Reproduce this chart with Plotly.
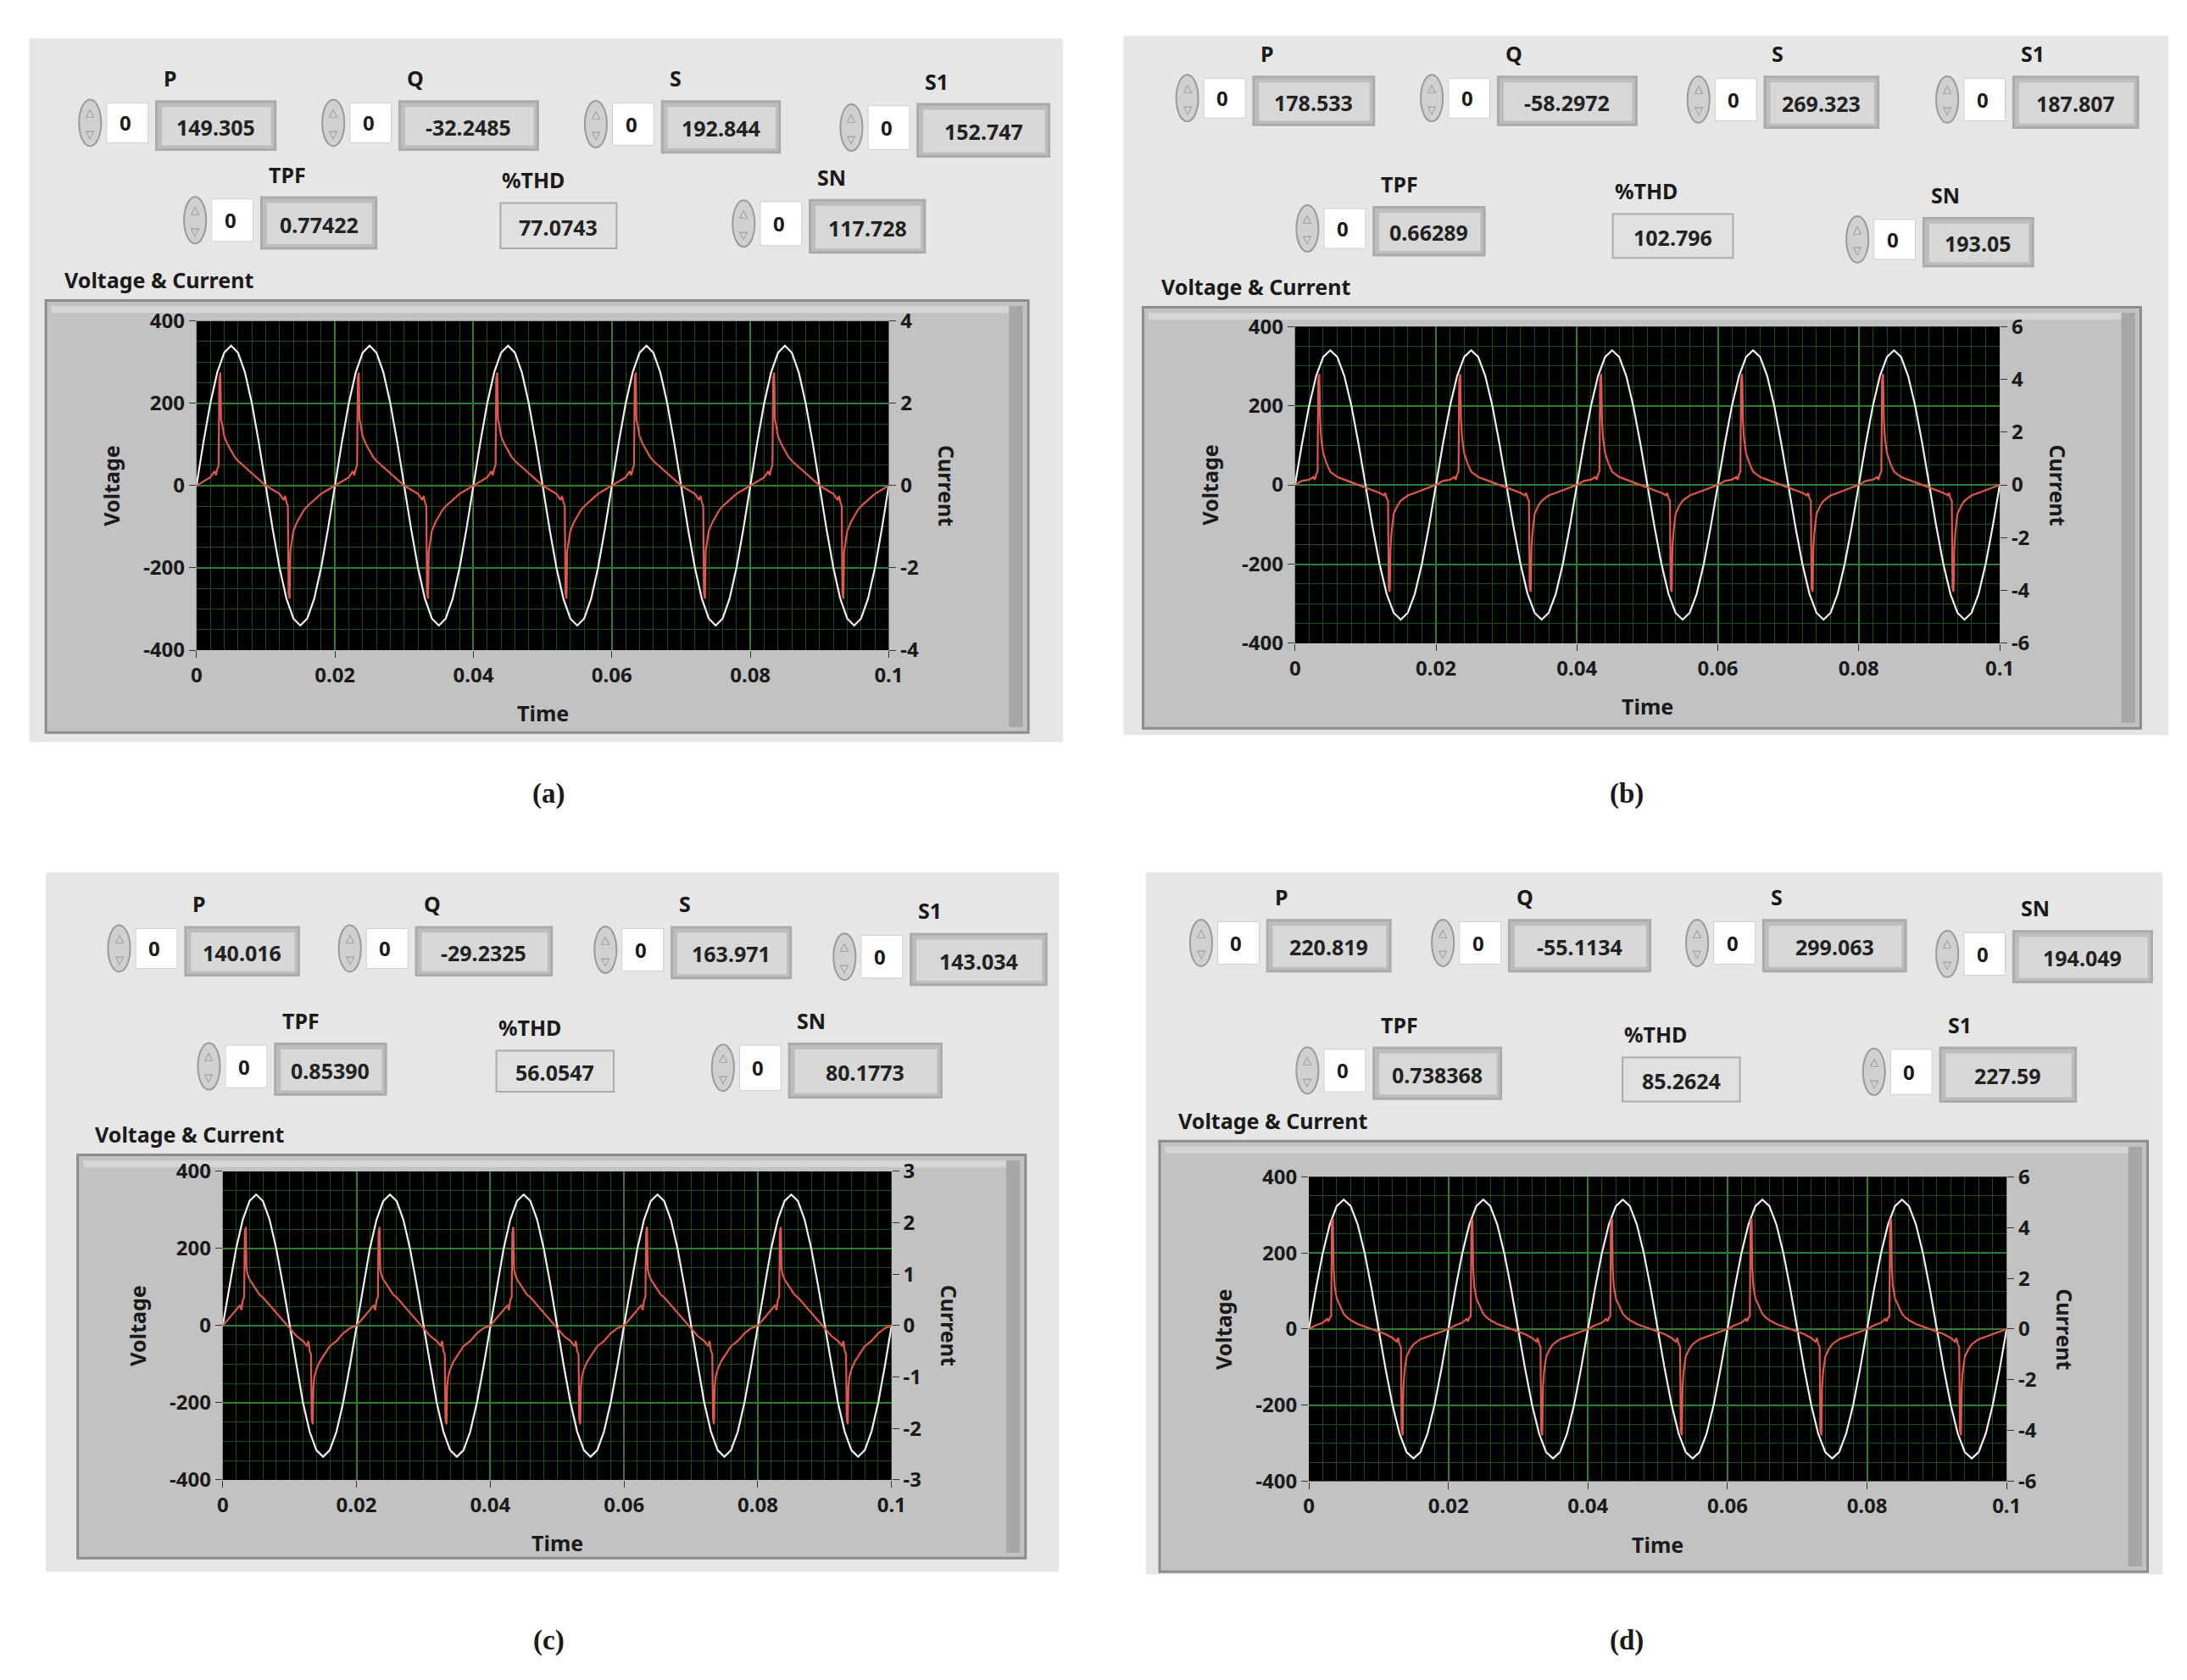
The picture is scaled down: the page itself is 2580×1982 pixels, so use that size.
import plotly.graph_objects as go

W, H = 2580, 1982
S = W / 1568.0          # reference measured at 1568 px wide
HD = H / S

# ---- data ----------------------------------------------------------------
panel_ids = ['(a)', '(b)', '(c)', '(d)']
cur_ranges = [4, 6, 3, 6]
cur_steps = [2, 2, 1, 2]

# one mains cycle of voltage, sampled every 1 ms
volt_cycle = [0, 105, 200, 275, 323, 340, 323, 275, 200, 105,
              0, -105, -200, -275, -323, -340, -323, -275, -200, -105]

# one cycle of current (ms, A)
cur_t = [0, 1, 2, 2.6, 2.8, 3.0, 3.2, 3.3, 3.45, 3.55, 3.7, 4.0, 4.5, 5.0, 5.5, 6.0, 7.0, 8.0, 9.0,
         10.0, 11.0, 12.0, 12.6, 12.8, 13.0, 13.2, 13.3, 13.45, 13.55, 13.7, 14.0, 14.5, 15.0, 15.5,
         16.0, 17.0, 18.0, 19.0]
cur_a = [0, 0.1, 0.2, 0.35, 0.25, 0.4, 0.5, 2.6, 2.75, 1.6, 1.5, 1.2, 1.0, 0.85, 0.7, 0.6, 0.45, 0.3, 0.15,
         0.0, -0.1, -0.2, -0.35, -0.25, -0.4, -0.5, -2.6, -2.75, -1.6, -1.4, -1.1, -0.9, -0.75, -0.6,
         -0.5, -0.35, -0.2, -0.1]
cur_b = [0, 0.15, 0.2, 0.3, 0.2, 0.4, 0.5, 4.0, 4.2, 2.5, 1.8, 1.2, 0.8, 0.5, 0.4, 0.3, 0.2, 0.1, 0.0,
         -0.1, -0.2, -0.3, -0.4, -0.3, -0.5, -0.6, -3.9, -4.05, -2.4, -1.8, -1.1, -0.8, -0.6, -0.5,
         -0.4, -0.3, -0.2, -0.1]
cur_c = [0, 0.15, 0.3, 0.4, 0.3, 0.5, 0.55, 1.8, 1.92, 1.1, 1.0, 0.9, 0.8, 0.7, 0.6, 0.55, 0.4, 0.25, 0.1,
         -0.05, -0.2, -0.3, -0.4, -0.3, -0.5, -0.55, -1.8, -1.92, -1.2, -1.0, -0.85, -0.7, -0.6, -0.5,
         -0.4, -0.3, -0.15, -0.05]
cur_d = [0, 0.15, 0.25, 0.4, 0.3, 0.45, 0.5, 4.2, 4.36, 2.4, 1.7, 1.2, 0.9, 0.6, 0.45, 0.35, 0.2, 0.1, 0.0,
         -0.1, -0.2, -0.35, -0.5, -0.35, -0.6, -0.7, -4.0, -4.19, -2.3, -1.7, -1.1, -0.8, -0.6, -0.5,
         -0.4, -0.3, -0.2, -0.1]
currents = [cur_a, cur_b, cur_c, cur_d]
n_cycles = 5

time_ticks = [0, 0.02, 0.04, 0.06, 0.08, 0.1]
time_labels = ['0', '0.02', '0.04', '0.06', '0.08', '0.1']
volt_ticks = [-400, -200, 0, 200, 400]

ind_a = [('P', '149.305'), ('Q', '-32.2485'), ('S', '192.844'), ('S1', '152.747'),
         ('TPF', '0.77422'), ('%THD', '77.0743'), ('SN', '117.728')]
ind_b = [('P', '178.533'), ('Q', '-58.2972'), ('S', '269.323'), ('S1', '187.807'),
         ('TPF', '0.66289'), ('%THD', '102.796'), ('SN', '193.05')]
ind_c = [('P', '140.016'), ('Q', '-29.2325'), ('S', '163.971'), ('S1', '143.034'),
         ('TPF', '0.85390'), ('%THD', '56.0547'), ('SN', '80.1773')]
ind_d = [('P', '220.819'), ('Q', '-55.1134'), ('S', '299.063'), ('SN', '194.049'),
         ('TPF', '0.738368'), ('%THD', '85.2624'), ('S1', '227.59')]
indicators = [ind_a, ind_b, ind_c, ind_d]

# ---- layout geometry (reference px at 1568 wide) ---------------------------
panels = [(12, 12, 760, 525), (804, 10, 1560, 520), (24, 620, 757, 1130), (820, 620, 1556, 1132)]
frames = [(24, 203, 735, 518), (818, 208, 1540, 515), (47, 826, 733, 1120), (830, 816, 1545, 1130)]
plots = [(133, 218, 634, 458), (928, 222, 1438, 453), (152, 838, 636, 1063), (938, 842, 1443, 1064)]
titles = [(36, 188), (830, 193), (58, 811), (842, 801)]
boxes = [
    [(104, 58, 190, 93), (280, 58, 380, 93), (470, 58, 555, 95), (655, 60, 750, 98),
     (180, 128, 263, 165), (353, 132, 437, 165), (577, 130, 660, 168)],
    [(898, 40, 985, 75), (1075, 40, 1175, 75), (1268, 40, 1350, 77), (1448, 40, 1538, 77),
     (985, 135, 1065, 170), (1158, 140, 1245, 172), (1383, 143, 1462, 178)],
    [(125, 660, 207, 695), (292, 660, 390, 695), (477, 660, 563, 697), (650, 665, 748, 702),
     (190, 745, 270, 782), (350, 750, 435, 780), (562, 745, 672, 784)],
    [(908, 655, 997, 692), (1083, 655, 1185, 692), (1267, 655, 1370, 692), (1448, 663, 1548, 700),
     (985, 748, 1077, 785), (1165, 755, 1250, 787), (1395, 748, 1493, 787)],
]
labels_pos = [(388, 563), (1168, 563), (388, 1180), (1168, 1180)]


def px(x):
    return x / 1568.0


def py(y):
    return 1 - y / HD


FONT = 'Noto Sans'
fig = go.Figure()
shapes, annos = [], []


def rect(x0, y0, x1, y1, fill, line='rgba(0,0,0,0)', lw=0, layer='below'):
    shapes.append(dict(type='rect', xref='paper', yref='paper', x0=px(x0), x1=px(x1),
                       y0=py(y1), y1=py(y0), fillcolor=fill, line=dict(color=line, width=lw),
                       layer=layer))


def text(x, y, s, size, xanchor='center', bold=True, angle=0, color='#1a1a1a', family=FONT):
    annos.append(dict(xref='paper', yref='paper', x=px(x), y=py(y), text=('<b>%s</b>' % s) if bold else s,
                      showarrow=False, xanchor=xanchor, yanchor='middle', textangle=angle,
                      font=dict(family=family, size=size, color=color)))


def num(v):
    return ('%g' % v).replace('\u2212', '-')


for k in range(4):
    rect(*panels[k], fill='#e6e6e6')
    rect(*frames[k], fill='#c2c2c2', line='#8c8c8c', lw=3)
    rect(frames[k][0] + 4, frames[k][1] + 4, frames[k][2] - 4, frames[k][1] + 9, fill='#d6d6d6')
    rect(frames[k][2] - 14, frames[k][1] + 4, frames[k][2] - 4, frames[k][3] - 4, fill='#a6a6a6')
    x0, y0, x1, y1 = plots[k]
    rect(x0, y0, x1, y1, fill='black')
    text(titles[k][0], titles[k][1], 'Voltage & Current', 25, xanchor='left')
    text(*labels_pos[k], panel_ids[k], 33, family='Liberation Serif')

    for (lab, val), (bx0, by0, bx1, by1) in zip(indicators[k], boxes[k]):
        thd = lab == '%THD'
        rect(bx0, by0, bx1, by1, fill='#e0e0e0' if thd else '#bdbdbd', line='#ababab', lw=3 if not thd else 2)
        rect(bx0 + 4, by0 + 4, bx1 - 3, by1 - 3, fill='#d8d8d8' if not thd else '#e0e0e0')
        text((bx0 + bx1) / 2, (by0 + by1) / 2 + 1, val, 25, bold=True, color='#222')
        text(bx0 + (0 if thd else 4), by0 - 17, lab, 25, xanchor='left')
        if not thd:
            rect(bx0 - 36, by0 + 1, bx0 - 6, by1 - 5, fill='white', line='#cfcfcf', lw=1)
            text(bx0 - 28, (by0 + by1) / 2 - 2, '0', 24, xanchor='left', bold=True)
            cx, cy = bx0 - 48, (by0 + by1) / 2 - 2
            shapes.append(dict(type='circle', xref='paper', yref='paper', x0=px(cx - 8), x1=px(cx + 8),
                               y0=py(cy + 17), y1=py(cy - 17), fillcolor='#d0d0d0',
                               line=dict(color='#9a9a9a', width=2), layer='below'))
            text(cx, cy - 8, '\u25b3', 13, bold=False, color='#888')
            text(cx, cy + 8, '\u25bd', 13, bold=False, color='#888')

    # axes
    i = k + 1
    xa, ya, ya2 = 'x%d' % i, 'y%d' % (2 * k + 1), 'y%d' % (2 * k + 2)
    fig.add_trace(go.Scatter(x=[(c * 20 + j) / 1000 for c in range(n_cycles) for j in range(20)] + [0.1],
                             y=volt_cycle * n_cycles + [volt_cycle[0]],
                             mode='lines', line=dict(color='#f0f0f0', width=2.2),
                             xaxis=xa, yaxis=ya, showlegend=False))
    fig.add_trace(go.Scatter(x=[(c * 20 + t) / 1000 for c in range(n_cycles) for t in cur_t] + [0.1],
                             y=currents[k] * n_cycles + [currents[k][0]],
                             mode='lines', line=dict(color='#e0584c', width=2.2),
                             xaxis=xa, yaxis=ya2, showlegend=False))

    r, st = cur_ranges[k], cur_steps[k]
    cur_ticks = [v * st for v in range(-int(r / st), int(r / st) + 1)]
    tickf = dict(family=FONT, size=24, color='#1a1a1a', weight='bold')
    xkey, ykey, ykey2 = 'xaxis%d' % i, 'yaxis%d' % (2 * k + 1), 'yaxis%d' % (2 * k + 2)
    fig.update_layout(**{
        xkey: dict(domain=[px(x0), px(x1)], anchor=ya, range=[0, 0.1], tickvals=time_ticks,
                   ticktext=time_labels,
                   showgrid=True, gridcolor='#2c7d2c', gridwidth=1.5, zeroline=False,
                   minor=dict(dtick=0.002, showgrid=True, gridcolor='#174d17', gridwidth=1),
                   ticks='outside', ticklen=8, tickcolor='#333', tickfont=tickf, showline=False),
        ykey: dict(domain=[py(y1), py(y0)], anchor=xa, range=[-400, 400], tickvals=volt_ticks,
                   ticktext=[num(v) for v in volt_ticks],
                   showgrid=True, gridcolor='#2c7d2c', gridwidth=1.5, zeroline=False,
                   minor=dict(dtick=50, showgrid=True, gridcolor='#174d17', gridwidth=1),
                   ticks='outside', ticklen=8, tickcolor='#333', tickfont=tickf),
        ykey2: dict(domain=[py(y1), py(y0)], anchor=xa, overlaying=ya, side='right',
                    range=[-r, r], tickvals=cur_ticks, ticktext=[num(v) for v in cur_ticks],
                    showgrid=False, zeroline=False, ticks='outside', ticklen=8, tickcolor='#333',
                    tickfont=tickf),
    })
    text(x0 - 62, (y0 + y1) / 2, 'Voltage', 25, angle=-90)
    text(x1 + 42, (y0 + y1) / 2, 'Current', 25, angle=90)
    text((x0 + x1) / 2, y1 + 46, 'Time', 25)

fig.update_layout(width=W, height=H, margin=dict(l=0, r=0, t=0, b=0),
                  paper_bgcolor='white', plot_bgcolor='black',
                  shapes=shapes, annotations=annos)
fig.write_html('out.html')
